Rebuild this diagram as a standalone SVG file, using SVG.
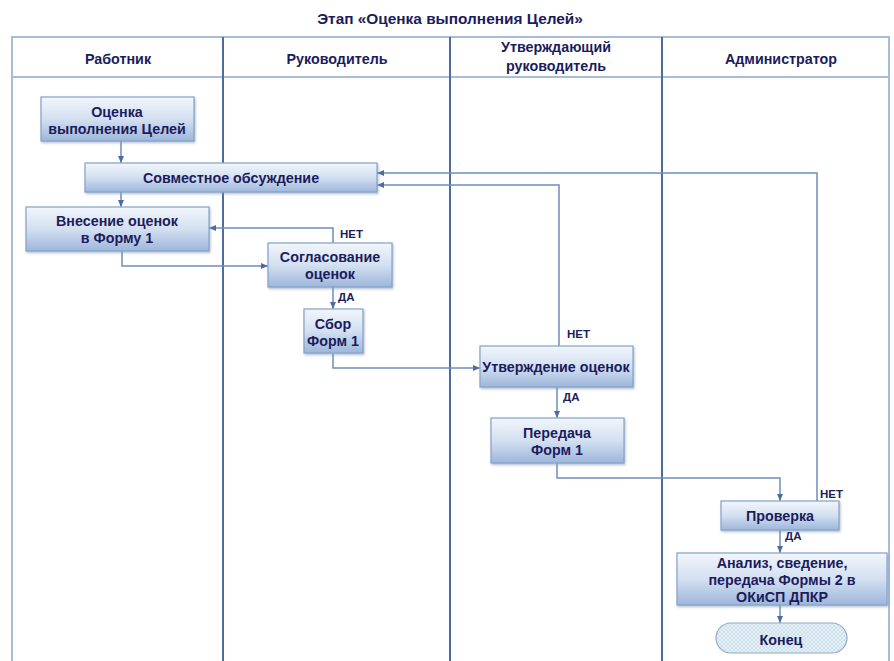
<svg xmlns="http://www.w3.org/2000/svg" width="894" height="661" viewBox="0 0 894 661">
<style>
.t{font-family:"Liberation Sans",Arial,sans-serif;font-weight:bold;fill:#1c1c5c;text-anchor:middle}
.h{font-size:14.3px}
.b{font-size:14.3px}
.l{font-size:11.5px;text-anchor:start}
.box{fill:url(#g);stroke:#86a2c8;stroke-width:1.2;filter:url(#sh)}
.c{fill:none;stroke:#6d8dbb;stroke-width:1.5;marker-end:url(#a)}
.div{stroke:#4e6d9e;stroke-width:2}
.fr{fill:none;stroke:#a9bcd6;stroke-width:2}
</style>
<defs>
<linearGradient id="g" x1="0" y1="0" x2="0" y2="1">
<stop offset="0" stop-color="#f2f6fc"/>
<stop offset="0.5" stop-color="#d3e0f1"/>
<stop offset="1" stop-color="#9db6da"/>
</linearGradient>
<pattern id="p" width="4" height="4" patternUnits="userSpaceOnUse">
<rect width="4" height="4" fill="#e6f2f8"/>
<path d="M0 0L4 4M4 0L0 4" stroke="#b9d3e2" stroke-width="0.6"/>
</pattern>
<filter id="sh" x="-10%" y="-20%" width="120%" height="150%">
<feDropShadow dx="1" dy="1.5" stdDeviation="1" flood-color="#7f96b8" flood-opacity="0.6"/>
</filter>
<marker id="a" markerWidth="7" markerHeight="6" refX="7" refY="3" orient="auto" markerUnits="userSpaceOnUse">
<path d="M0 0L7 3L0 6z" fill="#4e6d9e"/>
</marker>
</defs>
<rect width="894" height="661" fill="#ffffff"/>
<text class="t" x="450" y="24" font-size="15.4">Этап «Оценка выполнения Целей»</text>
<g id="lanes">
<rect class="fr" x="12" y="37" width="877" height="640"/>
<line class="fr" x1="12" y1="77" x2="889" y2="77"/>
<line class="div" x1="223" y1="37" x2="223" y2="661"/>
<line class="div" x1="450" y1="37" x2="450" y2="661"/>
<line class="div" x1="662" y1="37" x2="662" y2="661"/>
<text class="t h" x="118" y="64">Работник</text>
<text class="t h" x="337" y="64">Руководитель</text>
<text class="t h" x="556" y="52">Утверждающий</text>
<text class="t h" x="556" y="71">руководитель</text>
<text class="t h" x="781" y="64">Администратор</text>
</g>
<g id="connectors">
<path class="c" d="M121 141V163"/>
<path class="c" d="M121 192V207"/>
<path class="c" d="M333 243V228H209"/>
<path class="c" d="M122 251V266H268"/>
<path class="c" d="M333 287V309"/>
<path class="c" d="M333 353V368H480"/>
<path class="c" d="M559 346V185H377"/>
<path class="c" d="M557 387V418"/>
<path class="c" d="M557 463V478H780V501"/>
<path class="c" d="M817 501V173H377"/>
<path class="c" d="M780 530V553"/>
<path class="c" d="M780 605V623"/>
<text class="t l" x="340" y="238">НЕТ</text>
<text class="t l" x="338" y="301">ДА</text>
<text class="t l" x="567" y="338">НЕТ</text>
<text class="t l" x="563" y="401">ДА</text>
<text class="t l" x="820" y="498">НЕТ</text>
<text class="t l" x="785" y="540">ДА</text>
</g>
<g id="n1"><rect class="box" x="41" y="97" width="153" height="44"/>
<text class="t b" x="117" y="117">Оценка</text><text class="t b" x="117" y="134">выполнения Целей</text></g>
<g id="n2"><rect class="box" x="85" y="163" width="292" height="29"/>
<text class="t b" x="231" y="183">Совместное обсуждение</text></g>
<g id="n3"><rect class="box" x="26" y="207" width="183" height="44"/>
<text class="t b" x="117" y="226">Внесение оценок</text><text class="t b" x="117" y="243">в Форму 1</text></g>
<g id="n4"><rect class="box" x="268" y="243" width="124" height="44"/>
<text class="t b" x="330" y="262">Согласование</text><text class="t b" x="330" y="279">оценок</text></g>
<g id="n5"><rect class="box" x="304" y="309" width="59" height="44"/>
<text class="t b" x="333" y="329">Сбор</text><text class="t b" x="333" y="346">Форм 1</text></g>
<g id="n6"><rect class="box" x="480" y="346" width="153" height="41"/>
<text class="t b" x="556" y="372">Утверждение оценок</text></g>
<g id="n7"><rect class="box" x="491" y="418" width="133" height="45"/>
<text class="t b" x="557" y="438">Передача</text><text class="t b" x="557" y="455">Форм 1</text></g>
<g id="n8"><rect class="box" x="721" y="501" width="118" height="29"/>
<text class="t b" x="780" y="521">Проверка</text></g>
<g id="n9"><rect class="box" x="677" y="553" width="210" height="52"/>
<text class="t b" x="782" y="568">Анализ, сведение,</text><text class="t b" x="782" y="585">передача Формы 2 в</text><text class="t b" x="782" y="602">ОКиСП ДПКР</text></g>
<g id="n10"><rect x="716" y="623" width="131" height="30" rx="15" fill="url(#p)" stroke="#93aac6" stroke-width="1.2"/>
<text class="t b" x="781" y="645">Конец</text></g>
</svg>
